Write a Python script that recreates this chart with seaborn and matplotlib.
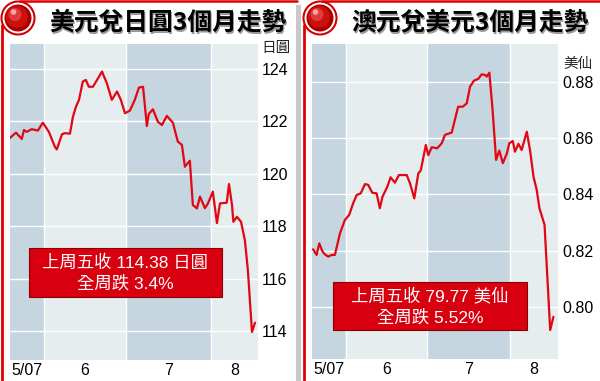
import matplotlib
matplotlib.use("Agg")
import matplotlib.pyplot as plt
import seaborn as sns
from matplotlib.patches import Rectangle, Circle

# x = days counted from 2007-05-01 (June 1 = 31, July 1 = 61, Aug 1 = 92)
jpy_day = [18.6, 20.8, 22.9, 23.7, 24.7, 26.5, 28.8, 30.6, 32.8, 35.0, 35.7, 37.6, 38.7, 40.5,
           41.6, 42.7, 43.8, 45.2, 46.3, 47.4, 48.9, 50.4, 52.2, 54.0, 55.8, 57.7, 59.1, 60.6,
           62.4, 64.2, 65.7, 67.2, 68.6, 69.3, 70.8, 72.6, 74.1, 75.9, 78.1, 79.9, 81.4, 82.5,
           84.3, 85.4, 86.9, 88.0, 89.8, 90.9, 92.7, 94.2, 95.3, 97.8, 98.6, 99.7, 100.2, 101.5,
           103.0, 104.4, 105.5, 107.0, 108.1]
jpy_rate = [121.37, 121.57, 121.33, 121.67, 121.60, 121.70, 121.65, 121.95, 121.60, 121.03,
            120.93, 121.51, 121.55, 121.53, 122.18, 122.56, 122.82, 123.52, 123.58, 123.32,
            123.32, 123.58, 123.90, 123.45, 122.82, 123.14, 122.82, 122.31, 122.41, 122.82,
            123.29, 123.32, 121.82, 122.28, 122.46, 121.99, 121.86, 122.21, 121.95, 121.23,
            121.10, 120.27, 120.50, 118.81, 118.68, 119.13, 118.69, 118.87, 119.32, 118.12,
            118.87, 118.90, 119.61, 118.81, 118.17, 118.36, 118.17, 117.47, 116.33, 113.97,
            114.32]

aud_day = [18.8, 20.1, 21.1, 22.3, 23.2, 24.4, 25.7, 26.9, 28.8, 30.6, 32.2, 33.7, 35.0, 36.5,
           38.1, 39.3, 40.8, 42.4, 43.6, 44.6, 46.4, 47.6, 49.2, 50.7, 53.6, 54.8, 56.4, 57.9,
           58.8, 60.7, 61.6, 62.9, 64.9, 66.6, 67.8, 70.3, 72.7, 74.4, 75.9, 77.1, 78.6, 80.2,
           81.4, 82.7, 83.3, 84.3, 85.5, 86.8, 88.0, 89.3, 90.8, 91.7, 93.0, 93.8, 95.1, 96.3,
           98.2, 99.4, 100.7, 101.9, 102.9, 104.8, 106.9, 108.1]
aud_rate = [0.8205, 0.8185, 0.8226, 0.8197, 0.8187, 0.8179, 0.8185, 0.8185, 0.8262, 0.8309,
            0.8327, 0.8369, 0.8398, 0.8404, 0.8437, 0.8434, 0.8406, 0.8404, 0.8351, 0.8392,
            0.8428, 0.8461, 0.8442, 0.8469, 0.8469, 0.8440, 0.8386, 0.8475, 0.8485, 0.8576,
            0.8540, 0.8568, 0.8564, 0.8582, 0.8612, 0.8620, 0.8712, 0.8712, 0.8724, 0.8783,
            0.8805, 0.8811, 0.8827, 0.8825, 0.8819, 0.8833, 0.8700, 0.8523, 0.8556, 0.8511,
            0.8546, 0.8582, 0.8590, 0.8552, 0.8580, 0.8558, 0.8623, 0.8558, 0.8463, 0.8416,
            0.8351, 0.8292, 0.7918, 0.7965]

month_starts = [31, 61, 92]
month_labels = ["5/07", "6", "7", "8"]
jpy_ticks = [114, 116, 118, 120, 122, 124]
aud_ticks = [0.80, 0.82, 0.84, 0.86, 0.88]

titles = ["美元兌日圓3個月走勢", "澳元兌美元3個月走勢"]
units = ["日圓", "美仙"]
notes = [["上周五收 114.38 日圓", "全周跌 3.4%"],
         ["上周五收 79.77 美仙", "全周跌 5.52%"]]

DARK = "#c5d6e0"
LIGHT = "#e5edef"
LINE = "#e30613"

sns.set_style("white")
plt.rcParams['font.family'] = ['Liberation Sans', 'Noto Sans CJK TC']

W, H = 600, 381
fig = plt.figure(figsize=(6, 3.81), dpi=100)


def draw_panel(rect, days, rates, xlim, ylim, yticks, fmt):
    x0, top, x1, bottom = rect
    ax = fig.add_axes([x0 / W, (H - bottom) / H, (x1 - x0) / W, (bottom - top) / H])
    edges = [xlim[0]] + month_starts + [xlim[1]]
    for i in range(len(edges) - 1):
        ax.axvspan(edges[i], edges[i + 1], color=DARK if i % 2 == 0 else LIGHT, lw=0, zorder=0)
    for m in month_starts:
        ax.axvline(m, color="white", lw=1.0, zorder=1)
    for t in yticks:
        ax.axhline(t, color="white", lw=1.0, zorder=1)
    sns.lineplot(x=days, y=rates, ax=ax, color=LINE, lw=1.6, zorder=3)
    ax.set_xlim(xlim)
    ax.set_ylim(ylim)
    centers = [(edges[i] + edges[i + 1]) / 2 for i in range(len(edges) - 1)]
    ax.set_xticks(centers)
    ax.set_xticklabels(month_labels)
    ax.yaxis.tick_right()
    ax.set_yticks(yticks)
    ax.set_yticklabels([fmt.format(t) for t in yticks])
    ax.tick_params(axis="both", length=0, labelsize=11.5, colors="black")
    ax.tick_params(axis="x", pad=2)
    ax.tick_params(axis="y", pad=3)
    for s in ax.spines.values():
        s.set_visible(False)
    ax.set_xlabel("")
    ax.set_ylabel("")
    return ax


draw_panel((10, 44, 258, 360), jpy_day, jpy_rate, (18.6, 109.2), (112.9, 124.95), jpy_ticks, "{:.0f}")
draw_panel((312, 44, 558, 359), aud_day, aud_rate, (18.4, 109.8), (0.7815, 0.8935), aud_ticks, "{:.2f}")

# overlay in pixel units for frame, title, badges and notes
ov = fig.add_axes([0, 0, 1, 1], zorder=5)
ov.set_xlim(0, W)
ov.set_ylim(H, 0)
ov.axis("off")
ov.patch.set_alpha(0)

# separator between panels
ov.add_patch(Rectangle((296, 5), 5, H, color="#c8c8c8", lw=0))

for px, title, unit, note, box, unit_xy in [
        (0, titles[0], units[0], notes[0], (29, 248, 222, 297), (276, 48)),
        (302, titles[1], units[1], notes[1], (333, 282, 527, 330), (578, 64))]:
    # red frame lines
    ov.plot([px + 20, px + 297 if px == 0 else W], [1.2, 1.2], color="#e00000", lw=1.8)
    ov.plot([px + 1.8, px + 1.8], [25, H], color="#e00000", lw=2.0)
    # ball badge
    cx, cy = px + 18, 18
    ov.add_patch(Circle((cx, cy), 16.5, fc="white", ec="#d40000", lw=1.5))
    ov.add_patch(Circle((cx, cy), 13.5, fc="#a80000", lw=0))
    ov.add_patch(Circle((cx - 1.2, cy - 1.2), 11, fc="#cc1010", lw=0))
    ov.add_patch(Circle((cx - 3, cy - 3.5), 6.5, fc="#e03a3a", lw=0))
    ov.add_patch(Circle((cx - 4.5, cy - 6), 2.8, fc="#f6a8a8", lw=0))
    # title with soft shadow
    ov.text(px + 49 + 1.5, 22.5 + 1.5, title, fontsize=17.8, fontweight="heavy",
            color="#9a9a9a", va="center", ha="left", family="Noto Sans CJK TC")
    ov.text(px + 49, 22.5, title, fontsize=17.8, fontweight="heavy",
            color="black", va="center", ha="left", family="Noto Sans CJK TC")
    # unit label
    ov.text(unit_xy[0], unit_xy[1], unit, fontsize=10.5, ha="center", va="center",
            family="Noto Sans CJK TC")
    # note box
    bx0, by0, bx1, by1 = box
    ov.add_patch(Rectangle((bx0, by0), bx1 - bx0, by1 - by0, fc="#d8000f", ec="#8a0000", lw=0.8))
    bxc = (bx0 + bx1) / 2
    ov.text(bxc, by0 + 15, note[0], fontsize=12.5, color="white", ha="center", va="center")
    ov.text(bxc, by0 + 35, note[1], fontsize=12.5, color="white", ha="center", va="center")

fig.savefig("out.png", dpi=100)
